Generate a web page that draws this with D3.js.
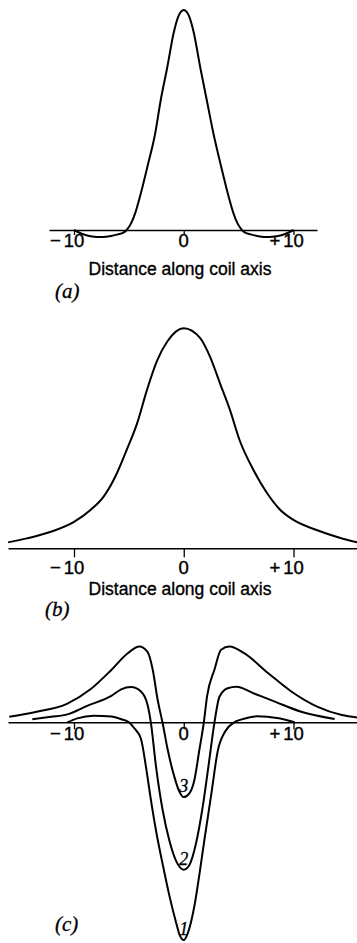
<!DOCTYPE html>
<html>
<head>
<meta charset="utf-8">
<script src="https://cdn.jsdelivr.net/npm/d3@7"></script>
<style>
  html, body { margin: 0; padding: 0; background: #fff; }
  svg { display: block; }
</style>
</head>
<body>
<svg id="chart" width="357" height="943"></svg>
<script>
// ---------- data ----------
const tickValues = [-10, 0, 10];
const tickLabels = ["\u221210", "0", "+10"];
const axisTitle = "Distance along coil axis";
const panelTags = ["(a)", "(b)", "(c)"];

// (a) field along axis, narrow coil
const posA = [-10, -9.3, -8.5, -7.4, -6.6, -6.0, -5.5, -5.2, -4.8, -4.4, -4.0, -3.3, -2.6, -2.1, -1.5, -0.9, -0.5, 0,
              0.5, 0.9, 1.5, 2.1, 2.7, 3.4, 4.1, 4.5, 4.9, 5.3, 5.6, 6.1, 6.8, 7.7, 8.6, 9.3, 10];
const valA = [0, -0.017, -0.028, -0.032, -0.027, -0.02, -0.012, 0, 0.03, 0.08, 0.15, 0.29, 0.44, 0.59, 0.74, 0.9, 0.97, 1,
              0.97, 0.9, 0.74, 0.59, 0.44, 0.29, 0.15, 0.08, 0.03, 0, -0.012, -0.02, -0.028, -0.032, -0.027, -0.017, 0];

// (b) broad field
const posB = [-16.0, -14.3, -12.1, -10, -8.5, -7.3, -6.1, -5.2, -4.25, -3.35, -2.4, -1.5, 0,
              1.5, 2.4, 3.3, 4.2, 5.1, 6.35, 7.6, 8.8, 10, 12.1, 14.2, 15.8];
const valB = [0.027, 0.045, 0.075, 0.12, 0.174, 0.235, 0.34, 0.447, 0.568, 0.72, 0.856, 0.94, 1,
              0.955, 0.87, 0.75, 0.63, 0.49, 0.356, 0.25, 0.174, 0.129, 0.083, 0.048, 0.027];

// (c) three difference curves
const curveNames = ["1", "2", "3"];
const pos1 = [-10.6, -9.7, -8.2, -6.6, -5.7, -5.0, -4.5, -3.9, -3.45, -3.0, -2.5, -1.9, -1.3, -0.7, -0.35, 0,
              0.37, 0.97, 1.43, 1.88, 2.5, 3.1, 3.8, 4.6, 5.2, 6.7, 8.5, 10.1];
const val1 = [0, 0.018, 0.03, 0.026, 0.014, 0, -0.027, -0.075, -0.2, -0.35, -0.5, -0.65, -0.79, -0.91, -0.97, -0.99,
              -0.958, -0.835, -0.69, -0.535, -0.33, -0.13, -0.04, 0, 0.012, 0.027, 0.02, 0];
const pos2 = [-13.8, -12.1, -10.6, -8.8, -6.6, -5.7, -4.8, -3.9, -3.3, -3.0, -2.53, -1.92, -1.3, -0.7, 0,
              0.5, 1.12, 1.74, 2.25, 2.8, 3.25, 4.0, 4.8, 6.45, 8.3, 10.7, 13.75];
const val2 = [0.014, 0.025, 0.036, 0.075, 0.12, 0.15, 0.16, 0.14, 0.08, 0, -0.2, -0.4, -0.54, -0.63, -0.67,
              -0.65, -0.55, -0.38, -0.2, 0, 0.116, 0.155, 0.162, 0.13, 0.094, 0.048, 0.015];
const pos3 = [-15.9, -13.6, -10.6, -8.5, -6.6, -5.1, -4.05, -3.3, -2.83, -2.37, -1.94, -1.46, -0.86, -0.4, 0,
              0.51, 0.97, 1.42, 1.83, 2.13, 2.8, 3.4, 4.16, 5.5, 7.7, 9.8, 12.2, 14.4, 15.9];
const val3 = [0.025, 0.046, 0.085, 0.15, 0.238, 0.314, 0.344, 0.32, 0.24, 0.10, 0, -0.125, -0.247, -0.315, -0.34,
              -0.323, -0.262, -0.126, 0, 0.12, 0.24, 0.33, 0.344, 0.314, 0.223, 0.14, 0.07, 0.033, 0.021];

// ---------- drawing ----------
const svg = d3.select("#chart");
const x = d3.scaleLinear().domain([-10, 10]).range([74, 293.5]);
const sansFont = "'Liberation Sans', Arial, sans-serif";
const serifFont = "'Liberation Serif', 'Times New Roman', serif";

const zip = (p, v) => p.map((d, i) => ({ u: d, v: v[i] }));

const panels = [
  { zero: 230,   top: 10,    axisFrom: x.invert(49), axisTo: x.invert(317), tick: 5, labelY: 246.7, titleY: 275, tagX: 55, tagY: 298,
    curves: [zip(posA, valA)] },
  { zero: 548.3, top: 328.3, axisFrom: x.invert(8),  axisTo: x.invert(357), tick: 9, labelY: 574,   titleY: 595, tagX: 45, tagY: 616,
    curves: [zip(posB, valB)] },
  { zero: 722.3, top: 502.3, axisFrom: x.invert(8),  axisTo: x.invert(357), tick: 7, labelY: 740,   titleY: null, tagX: 55, tagY: 931,
    curves: [zip(pos1, val1), zip(pos2, val2), zip(pos3, val3)], names: curveNames }
];

panels.forEach((p, pi) => {
  const y = d3.scaleLinear().domain([0, 1]).range([p.zero, p.top]);
  const g = svg.append("g");

  // axis via d3.axisBottom
  const xs = x.copy().domain([p.axisFrom, p.axisTo]).range([x(p.axisFrom), x(p.axisTo)]);
  const ax = d3.axisBottom(xs).tickValues(tickValues).tickSizeInner(p.tick).tickSizeOuter(0).tickFormat("");
  const axG = g.append("g").attr("transform", `translate(0,${p.zero})`).call(ax);
  axG.select(".domain").attr("stroke", "#000").attr("stroke-width", 1.4);
  axG.selectAll(".tick line").attr("stroke", "#000").attr("stroke-width", 1.3);

  // tick labels: digits centred on the tick, sign hanging on the left
  tickValues.forEach((t, i) => {
    const lab = tickLabels[i];
    const sign = /[0-9]/.test(lab[0]) ? "" : lab[0];
    const digits = sign ? lab.slice(1) : lab;
    const txt = g.append("text")
      .attr("x", x(t)).attr("y", p.labelY)
      .attr("text-anchor", "middle")
      .attr("font-family", sansFont).attr("font-size", 18.5)
      .attr("fill", "#000").attr("stroke", "#000").attr("stroke-width", 0.4)
      .text(digits);
    if (sign) {
      const w = txt.node().getComputedTextLength();
      g.append("text")
        .attr("x", x(t) - w / 2 - 3).attr("y", p.labelY)
        .attr("text-anchor", "end")
        .attr("font-family", sansFont).attr("font-size", 18.5)
        .attr("fill", "#000").attr("stroke", "#000").attr("stroke-width", 0.4)
        .text(sign);
    }
  });

  if (p.titleY !== null) {
    g.append("text")
      .attr("x", 180).attr("y", p.titleY)
      .attr("text-anchor", "middle")
      .attr("font-family", sansFont).attr("font-size", 17.5)
      .attr("textLength", 183).attr("lengthAdjust", "spacingAndGlyphs")
      .attr("fill", "#000").attr("stroke", "#000").attr("stroke-width", 0.35)
      .text(axisTitle);
  }

  g.append("text")
    .attr("x", p.tagX).attr("y", p.tagY)
    .attr("font-family", serifFont).attr("font-style", "italic").attr("font-size", 21)
    .attr("fill", "#000").attr("stroke", "#000").attr("stroke-width", 0.3)
    .text(panelTags[pi]);

  const line = d3.line()
    .x(d => x(d.u)).y(d => y(d.v))
    .curve(d3.curveMonotoneX);

  p.curves.forEach((c, ci) => {
    g.append("path")
      .datum(c)
      .attr("d", line)
      .attr("fill", "none")
      .attr("stroke", "#000")
      .attr("stroke-width", 2)
      .attr("stroke-linejoin", "round");
    if (p.names) {
      const minPt = c.reduce((a, b) => (b.v < a.v ? b : a));
      g.append("text")
        .attr("x", x(minPt.u)).attr("y", y(minPt.v) - 5)
        .attr("text-anchor", "middle")
        .attr("font-family", serifFont).attr("font-style", "italic").attr("font-size", 18)
        .attr("fill", "#000").attr("stroke", "#000").attr("stroke-width", 0.3)
        .text(p.names[ci]);
    }
  });
});
</script>
</body>
</html>
